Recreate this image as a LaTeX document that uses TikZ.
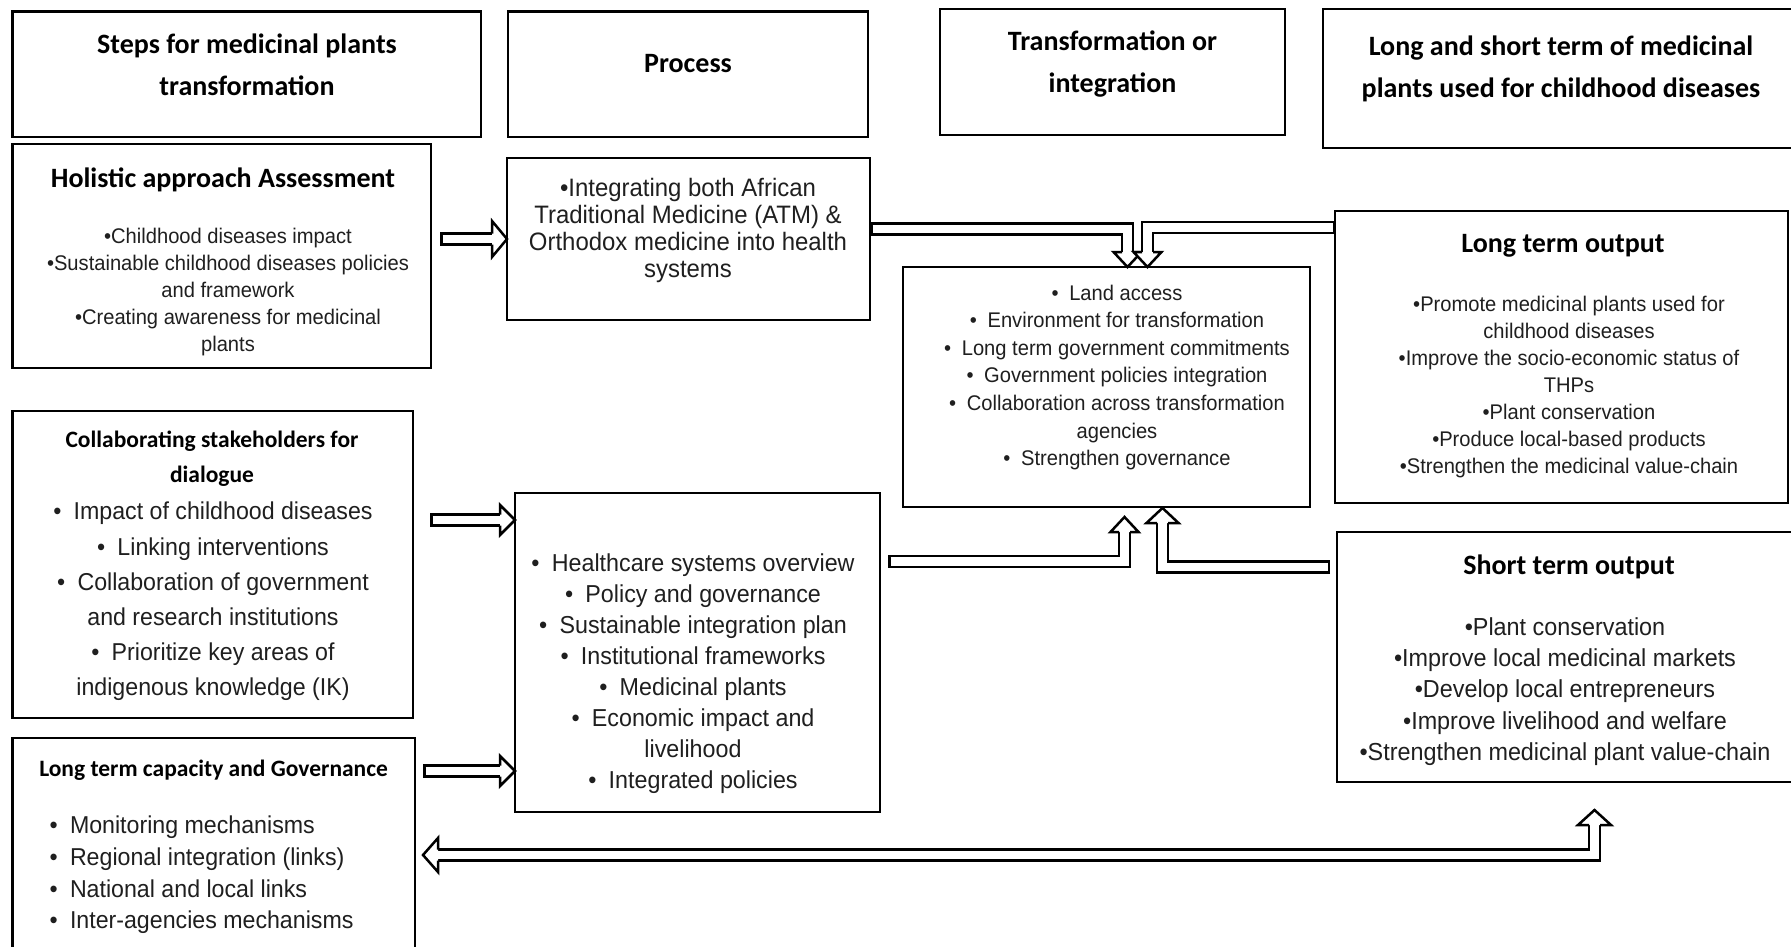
\documentclass[tikz,border=0pt]{standalone}
\usepackage{fontspec}
\setmainfont{Liberation Sans}[FakeStretch=0.95]
\newfontfamily\calfont{Carlito}
\usetikzlibrary{fit,calc}
\newcommand\fs[2]{\fontsize{#1}{#2}\selectfont}
\newcommand\ahead[3]{%
  \begin{scope}[shift={(#1)},rotate=#2]
    \fill[white] (0,0) -- (-15,#3) -- (-15,-#3) -- cycle;
    \draw[arrline] (-15,5.5) -- (-15,#3) -- (0,0) -- (-15,-#3) -- (-15,-5.5);
  \end{scope}}
\newcommand\shaft[1]{%
  \draw[line width=13.5pt, line join=miter, shorten >=14pt] #1;
  \draw[white, line width=8.5pt, line join=miter, shorten <=2.5pt, shorten >=13pt] #1;}
\begin{document}
\begin{tikzpicture}[x=1pt,y=-1pt,
  box/.style={draw, line width=2.7pt, inner sep=0pt, outer sep=0pt},
  hd/.style={font=\calfont\bfseries\fs{28}{42}, align=center, inner sep=0pt},
  sub/.style={font=\calfont\bfseries\fs{23.5}{35.5}, align=center, inner sep=0pt},
  bodyA/.style={font=\fs{21.2}{27}, align=center, inner sep=0pt, text=black!88},
  bodyB/.style={font=\fs{24.5}{31.3}, align=center, inner sep=0pt, text=black!88},
  arrline/.style={line width=2.5pt, line join=miter}
]
\useasboundingbox[fill=white] (0,0) rectangle (1791,947);
% boxes
\node[box, fit={(12.6,11.4) (481,137)}] (h1) {};
\node[box, fit={(508,11.4) (868,137)}] (h2) {};
\node[box, fit={(940,9) (1285,135)}] (h3) {};
\node[box, fit={(1323,9) (1800,148)}] (h4) {};
\node[box, fit={(12.6,144) (431,368)}] (hol) {};
\node[box, fit={(507,158) (870,320)}] (atm) {};
\node[box, fit={(903,267) (1310,507)}] (trans) {};
\node[box, fit={(1335,211) (1788,503)}] (ltout) {};
\node[box, fit={(12.6,411) (413,718)}] (collab) {};
\node[box, fit={(515,493) (880,812)}] (proc) {};
\node[box, fit={(12.6,738) (415,960)}] (ltc) {};
\node[box, fit={(1337,532) (1800,782)}] (stout) {};
% texts
\node[hd] (h1t) at (247,65) {Steps for medicinal plants\\transformation};
\node[hd] (h2t) at (688,64) {Process};
\node[hd] (h3t) at (1112.5,64.5) {Transformation or\\integration};
\node[hd] (h4t) at (1561,68.5) {Long and short term of medicinal\\plants used for childhood diseases};
\node[hd] (holt) at (223,179.5) {Holistic approach Assessment};
\node[bodyA] (holl) at (228,292.5) {•Childhood diseases impact\\•Sustainable childhood diseases policies\\and framework\\•Creating awareness for medicinal\\plants};
\node[bodyB, font=\fs{25.2}{27}] (atml) at (688,230) {•Integrating both African\\Traditional Medicine (ATM) \&\\Orthodox medicine into health\\systems};
\node[bodyA, font=\fs{21.2}{27.6}] (transl) at (1117,377.5) {•\enspace Land access\\•\enspace Environment for transformation\\•\enspace Long term government commitments\\•\enspace Government policies integration\\•\enspace Collaboration across transformation\\agencies\\•\enspace Strengthen governance};
\node[hd] (ltoutt) at (1563,246) {Long term output};
\node[bodyA] (ltoutl) at (1569,387.5) {•Promote medicinal plants used for\\childhood diseases\\•Improve the socio-economic status of\\THPs\\•Plant conservation\\•Produce local-based products\\•Strengthen the medicinal value-chain};
\node[sub] (collabt) at (212,458.5) {Collaborating stakeholders for\\dialogue};
\node[bodyB, font=\fs{24.4}{35.2}] (collabl) at (213,601.5) {•\enspace Impact of childhood diseases\\•\enspace Linking interventions\\•\enspace Collaboration of government\\and research institutions\\•\enspace Prioritize key areas of\\indigenous knowledge (IK)};
\node[sub] (ltct) at (213.6,770) {Long term capacity and Governance};
\node[bodyB, font=\fs{24.4}{31.6}, align=left, anchor=west] (ltcl) at (49.5,875) {•\enspace Monitoring mechanisms\\•\enspace Regional integration (links)\\•\enspace National and local links\\•\enspace Inter-agencies mechanisms};
\node[bodyB, font=\fs{24.5}{31}] (procl) at (693,674) {•\enspace Healthcare systems overview\\•\enspace Policy and governance\\•\enspace Sustainable integration plan\\•\enspace Institutional frameworks\\•\enspace Medicinal plants\\•\enspace Economic impact and\\livelihood\\•\enspace Integrated policies};
\node[hd] (stoutt) at (1569,566.5) {Short term output};
\node[bodyB, font=\fs{24.6}{31.4}] (stoutl) at (1565,691.5) {•Plant conservation\\•Improve local medicinal markets\\•Develop local entrepreneurs\\•Improve livelihood and welfare\\•Strengthen medicinal plant value-chain};
% arrows
\coordinate (t1) at (atm.west);
\shaft{($(hol.east |- t1)+(9,0)$) -- (t1)}
\ahead{t1}{0}{18}
\coordinate (t2) at ($(proc.north west)+(0,27)$);
\shaft{($(collab.east |- t2)+(17,0)$) -- (t2)}
\ahead{t2}{0}{15}
\coordinate (t3) at ($(proc.south west)+(0,-41)$);
\shaft{($(ltc.east |- t3)+(8,0)$) -- (t3)}
\ahead{t3}{0}{15}
\coordinate (t4) at ($(trans.north)+(21,0)$);
\shaft{($(atm.north east)+(0,71)$) -| (t4)}
\ahead{t4}{270}{14}
\coordinate (t5) at ($(trans.north)+(41,0)$);
\shaft{($(ltout.north west)+(0,16.5)$) -| (t5)}
\ahead{t5}{270}{14}
\coordinate (t6) at ($(trans.south)+(18,10)$);
\shaft{($(proc.north east)+(8,68.5)$) -| (t6)}
\ahead{t6}{90}{14}
\coordinate (t7) at ($(trans.south)+(56,1)$);
\shaft{($(stout.north west)+(-7,35)$) -| (t7)}
\ahead{t7}{90}{16}
\coordinate (t8a) at ($(ltc.north east)+(8,117)$);
\coordinate (t8b) at ($(stout.south)+(26,28)$);
\draw[line width=13.5pt, line join=miter, shorten <=14pt, shorten >=14pt] (t8a) -| (t8b);
\draw[white, line width=8.5pt, line join=miter, shorten <=13pt, shorten >=13pt] (t8a) -| (t8b);
\ahead{t8a}{180}{17}
\ahead{t8b}{90}{16.5}
\end{tikzpicture}
\end{document}
